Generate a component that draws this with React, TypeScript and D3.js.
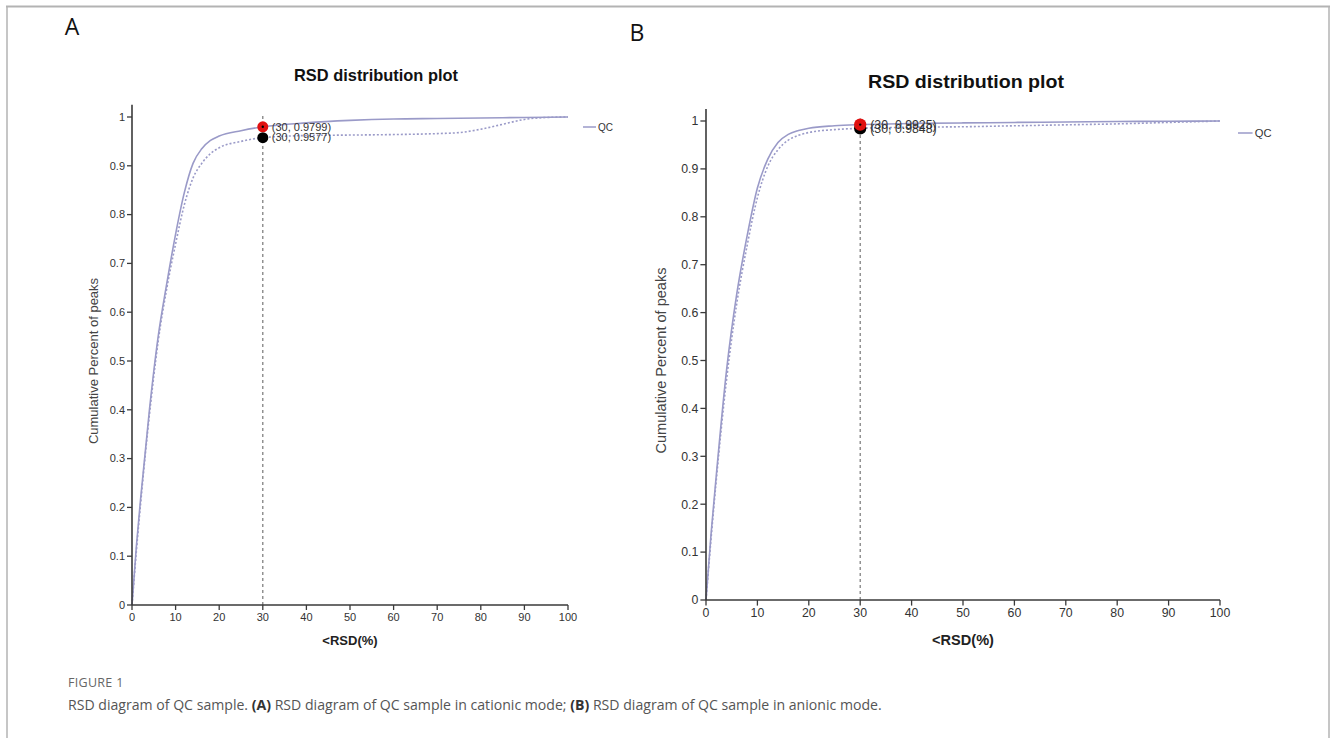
import React from "react";
import * as d3 from "d3";

// ---------- data ----------
const xTicks = [0, 10, 20, 30, 40, 50, 60, 70, 80, 90, 100];
const yTicks = [0, 0.1, 0.2, 0.3, 0.4, 0.5, 0.6, 0.7, 0.8, 0.9, 1];

// Panel A (cationic)
const rsdA_solid = [0, 1, 2, 4, 6, 8, 10, 12, 14, 16, 18, 20, 25, 30, 40, 50, 60, 70, 80, 90, 100];
const cumA_solid = [0, 0.12, 0.22, 0.4, 0.55, 0.66, 0.76, 0.845, 0.905, 0.935, 0.952, 0.961, 0.972, 0.9799, 0.988, 0.993, 0.996, 0.997, 0.998, 0.999, 1.0];
const rsdA_dash = [0, 1, 2, 4, 6, 8, 10, 12, 14, 16, 18, 20, 25, 30, 40, 50, 60, 70, 75, 80, 85, 90, 95, 100];
const cumA_dash = [0, 0.11, 0.21, 0.39, 0.54, 0.65, 0.74, 0.82, 0.875, 0.905, 0.925, 0.937, 0.95, 0.9577, 0.962, 0.963, 0.964, 0.966, 0.968, 0.975, 0.985, 0.995, 0.999, 1.0];

// Panel B (anionic)
const rsdB_solid = [0, 1, 2, 4, 6, 8, 10, 12, 14, 16, 18, 20, 25, 30, 40, 50, 60, 70, 80, 90, 100];
const cumB_solid = [0, 0.14, 0.26, 0.48, 0.64, 0.76, 0.86, 0.92, 0.955, 0.972, 0.98, 0.985, 0.99, 0.9925, 0.995, 0.996, 0.997, 0.998, 0.999, 0.9995, 1.0];
const rsdB_dash = [0, 1, 2, 4, 6, 8, 10, 12, 14, 16, 18, 20, 25, 30, 40, 50, 60, 70, 80, 90, 100];
const cumB_dash = [0, 0.13, 0.25, 0.46, 0.62, 0.74, 0.84, 0.905, 0.94, 0.96, 0.97, 0.976, 0.982, 0.9848, 0.987, 0.988, 0.99, 0.992, 0.994, 0.997, 1.0];

const markA = { x: 30, red: 0.9799, black: 0.9577 };
const markB = { x: 30, red: 0.9925, black: 0.9848 };

const LINE_COLOR = "#9a9ac8";
const FONT = "'Liberation Sans', Arial, sans-serif";

type PanelProps = {
  letter: string;
  letterPos: [number, number];
  x0: number; x1: number; y0: number; y1: number;
  s: number; // font scale
  titleX: number; titleY: number; titleLen: number;
  legendX: number; legendY: number;
  yTitleX: number;
  solidX: number[]; solidY: number[];
  dashX: number[]; dashY: number[];
  mark: { x: number; red: number; black: number };
};

function Panel(p: PanelProps) {
  const x = d3.scaleLinear().domain([0, 100]).range([p.x0, p.x1]);
  const y = d3.scaleLinear().domain([0, 1]).range([p.y0, p.y1]);
  const line = d3
    .line<[number, number]>()
    .x((d) => x(d[0]))
    .y((d) => y(d[1]))
    .curve(d3.curveMonotoneX);
  const solid = line(p.solidX.map((v, i) => [v, p.solidY[i]] as [number, number]));
  const dash = line(p.dashX.map((v, i) => [v, p.dashY[i]] as [number, number]));
  const axisColor = "#3a3a3a";
  const tickLen = 5 * p.s;
  const fs = 11 * p.s;
  const fmt = (v: number) => (v === 0 || v === 1 ? String(v) : d3.format(".1f")(v));
  const mx = x(p.mark.x);
  return (
    <g fontFamily={FONT}>
      <text x={p.letterPos[0]} y={p.letterPos[1]} fontSize={23} fill="#111" textAnchor="middle" fontFamily="'Open Sans', sans-serif">
        {p.letter}
      </text>
      <text
        x={p.titleX}
        y={p.titleY}
        fontSize={17 * p.s}
        fontWeight="bold"
        textAnchor="middle"
        fill="#111"
        textLength={p.titleLen}
        lengthAdjust="spacingAndGlyphs"
      >
        RSD distribution plot
      </text>
      {/* curves */}
      <path d={dash || ""} fill="none" stroke={LINE_COLOR} strokeWidth={1.6} strokeDasharray="2,2" />
      <path d={solid || ""} fill="none" stroke={LINE_COLOR} strokeWidth={1.6} />
      {/* vertical dashed line */}
      <line x1={mx} x2={mx} y1={p.y0} y2={y(1.005)} stroke="#777" strokeWidth={1.2} strokeDasharray="3,3" />
      {/* axes */}
      <line x1={p.x0} x2={p.x0} y1={p.y0} y2={y(1.025)} stroke={axisColor} strokeWidth={1.6} />
      <line x1={p.x0} x2={p.x1} y1={p.y0} y2={p.y0} stroke={axisColor} strokeWidth={1.6} />
      {yTicks.map((t) => (
        <g key={"y" + t}>
          <line x1={p.x0 - tickLen} x2={p.x0} y1={y(t)} y2={y(t)} stroke={axisColor} strokeWidth={1.3} />
          <text x={p.x0 - tickLen - 2} y={y(t)} dy="0.35em" fontSize={fs} textAnchor="end" fill="#333">
            {fmt(t)}
          </text>
        </g>
      ))}
      {xTicks.map((t) => (
        <g key={"x" + t}>
          <line x1={x(t)} x2={x(t)} y1={p.y0} y2={p.y0 + tickLen} stroke={axisColor} strokeWidth={1.3} />
          <text x={x(t)} y={p.y0 + tickLen + 2} dy="0.8em" fontSize={fs} textAnchor="middle" fill="#333">
            {t}
          </text>
        </g>
      ))}
      <text x={(p.x0 + p.x1) / 2} y={p.y0 + 40 * p.s} fontSize={13 * p.s} fontWeight="bold" textAnchor="middle" fill="#222">
        {"<RSD(%)"}
      </text>
      <text
        transform={`translate(${p.yTitleX},${(p.y0 + p.y1) / 2}) rotate(-90)`}
        fontSize={13 * p.s}
        textAnchor="middle"
        dy="0.35em"
        fill="#444"
      >
        Cumulative Percent of peaks
      </text>
      {/* markers */}
      <circle cx={mx} cy={y(p.mark.black)} r={5.5 * p.s} fill="#000" />
      <circle cx={mx} cy={y(p.mark.red)} r={5.5 * p.s} fill="#e01010" />
      <circle cx={mx} cy={y(p.mark.red)} r={1.2} fill="#000" />
      <text x={mx + 9 * p.s} y={y(p.mark.red)} dy="0.35em" fontSize={fs} fill="#333">
        {`(${p.mark.x}, ${p.mark.red})`}
      </text>
      <text x={mx + 9 * p.s} y={y(p.mark.black)} dy="0.35em" fontSize={fs} fill="#333">
        {`(${p.mark.x}, ${p.mark.black})`}
      </text>
      {/* legend */}
      <line x1={p.legendX} x2={p.legendX + 13 * p.s} y1={p.legendY} y2={p.legendY} stroke={LINE_COLOR} strokeWidth={1.5} />
      <text x={p.legendX + 15 * p.s} y={p.legendY} dy="0.35em" fontSize={10 * p.s} fill="#333">
        QC
      </text>
    </g>
  );
}

export default function App() {
  return (
    <svg width={1330} height={738} style={{ position: "absolute", left: 0, top: 0, background: "#fff" }}>
      <rect x={0} y={0} width={1330} height={738} fill="#fff" />
      {/* frame */}
      <line x1={6} x2={1330} y1={6.5} y2={6.5} stroke="#b3b3b3" strokeWidth={2} />
      <line x1={7} x2={7} y1={6} y2={738} stroke="#b3b3b3" strokeWidth={1.5} />
      <line x1={1329} x2={1329} y1={6} y2={738} stroke="#b3b3b3" strokeWidth={1.5} />
      <Panel
        letter="A"
        letterPos={[72, 35]}
        x0={132} x1={568} y0={605} y1={117}
        s={1}
        titleX={376} titleY={81} titleLen={164}
        legendX={583} legendY={127}
        yTitleX={93}
        solidX={rsdA_solid} solidY={cumA_solid}
        dashX={rsdA_dash} dashY={cumA_dash}
        mark={markA}
      />
      <Panel
        letter="B"
        letterPos={[637, 41]}
        x0={706} x1={1220} y0={600} y1={121}
        s={1.12}
        titleX={966} titleY={88} titleLen={196}
        legendX={1238} legendY={133}
        yTitleX={661}
        solidX={rsdB_solid} solidY={cumB_solid}
        dashX={rsdB_dash} dashY={cumB_dash}
        mark={markB}
      />
      {/* caption */}
      <text x={68} y={687} fontSize={12.5} fill="#666" fontFamily="'Open Sans', sans-serif" letterSpacing={0.3}>
        FIGURE 1
      </text>
      <text x={68} y={710} fontSize={14.1} fill="#555" fontFamily="'Open Sans', sans-serif">
        RSD diagram of QC sample. <tspan fontWeight="bold" fill="#333">(A)</tspan> RSD diagram of QC sample in cationic mode; <tspan fontWeight="bold" fill="#333">(B)</tspan> RSD diagram of QC sample in anionic mode.
      </text>
    </svg>
  );
}
